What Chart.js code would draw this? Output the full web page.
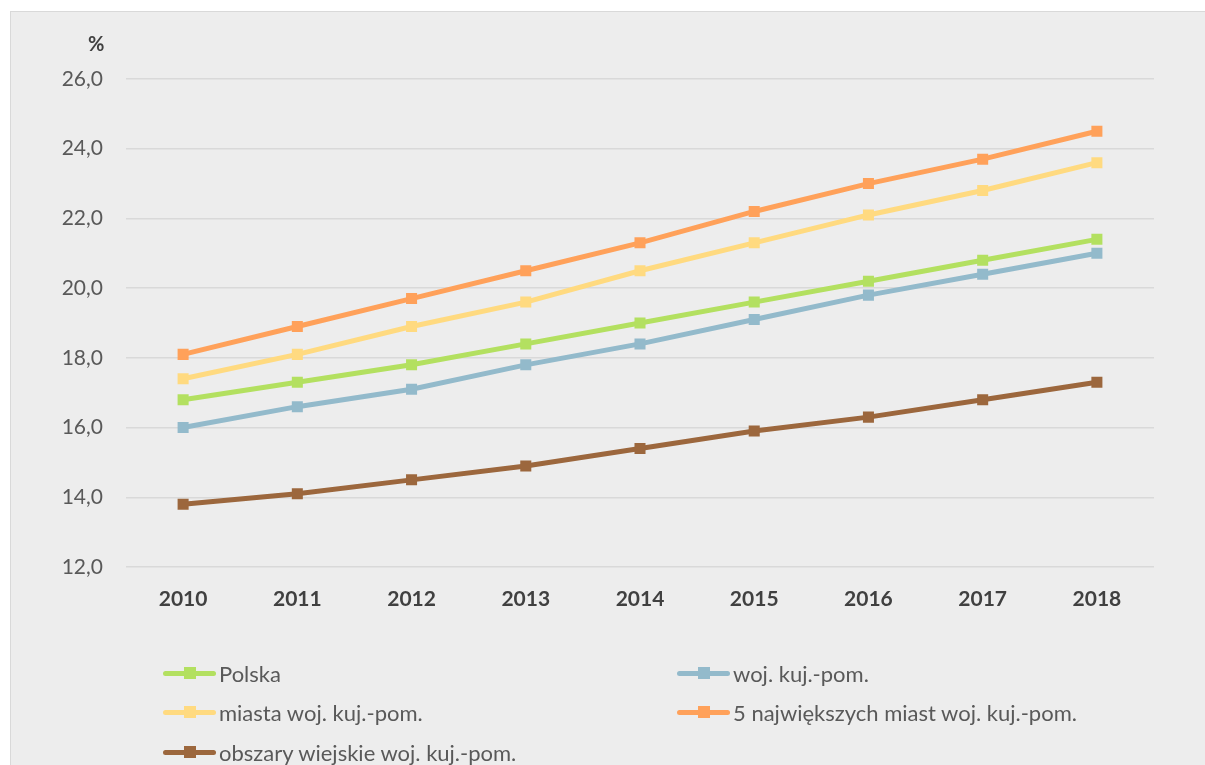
<!DOCTYPE html>
<html>
<head>
<meta charset="utf-8">
<script src="https://cdn.jsdelivr.net/npm/chart.js@4.4.1/dist/chart.umd.min.js"></script>
<style>
  html, body { margin: 0; padding: 0; background: #ffffff; width: 1205px; height: 765px; overflow: hidden; }
  #panel { position: absolute; left: 10px; top: 11px; width: 1195px; height: 754px; background: #EDEDED; border-left: 1.5px solid #D9D9D9; border-top: 1.5px solid #D9D9D9; box-sizing: border-box; }
  #wrap { position: absolute; left: 0; top: 0; width: 1205px; height: 765px; }
  #unit { position: absolute; left: 88px; top: 31px; font: bold 20px Lato, sans-serif; color: #404040; }
  .leg { position: absolute; height: 26px; display: flex; align-items: center; font: 22px Lato, sans-serif; color: #595959; white-space: nowrap; }
  .mk { position: relative; width: 53px; height: 26px; margin-right: 3px; }
  .mk .ln { position: absolute; left: 0; top: 10.5px; width: 53px; height: 5px; border-radius: 3px; }
  .mk .sq { position: absolute; left: 20.5px; top: 7px; width: 12px; height: 12px; }
</style>
</head>
<body>
<div id="panel"></div>
<div id="wrap"><canvas id="c" width="1205" height="765"></canvas></div>
<div id="unit">%</div>
<div id="legend"></div>
<script>
const years = ["2010","2011","2012","2013","2014","2015","2016","2017","2018"];
const seriesNames = ["Polska","woj. kuj.-pom.","miasta woj. kuj.-pom.","5 największych miast woj. kuj.-pom.","obszary wiejskie woj. kuj.-pom."];
const polska    = [16.8, 17.3, 17.8, 18.4, 19.0, 19.6, 20.2, 20.8, 21.4];
const wojKujPom = [16.0, 16.6, 17.1, 17.8, 18.4, 19.1, 19.8, 20.4, 21.0];
const miasta    = [17.4, 18.1, 18.9, 19.6, 20.5, 21.3, 22.1, 22.8, 23.6];
const piecMiast = [18.1, 18.9, 19.7, 20.5, 21.3, 22.2, 23.0, 23.7, 24.5];
const obszaryWiejskie = [13.8, 14.1, 14.5, 14.9, 15.4, 15.9, 16.3, 16.8, 17.3];
const yTicks = [12, 14, 16, 18, 20, 22, 24, 26];
const colors = ["#B3E060", "#93BACB", "#FFDA80", "#FFA15A", "#9C673D"];

const values = [polska, wojKujPom, miasta, piecMiast, obszaryWiejskie];

const datasets = values.map((v, i) => ({
  label: seriesNames[i],
  data: v,
  borderColor: colors[i],
  backgroundColor: colors[i],
  borderWidth: 5,
  pointStyle: 'rect',
  pointRadius: 7.8,
  pointBorderWidth: 0,
  pointHoverRadius: 7.8,
  tension: 0,
  fill: false
}));

new Chart(document.getElementById('c'), {
  type: 'line',
  data: { labels: years, datasets },
  options: {
    responsive: false,
    animation: false,
    events: [],
    layout: { padding: { left: 0, top: 79, right: 51, bottom: 158 } },
    plugins: { legend: { display: false }, tooltip: { enabled: false } },
    scales: {
      x: {
        offset: true,
        grid: { display: false, drawTicks: false },
        border: { display: false },
        ticks: { padding: 20, color: '#404040', font: { family: 'Lato', size: 21, weight: 'bold' } },
        afterFit: s => { s.height = 40; }
      },
      y: {
        min: 12, max: 26,
        afterBuildTicks: s => { s.ticks = yTicks.map(v => ({ value: v })); },
        grid: { color: '#D9D9D9', lineWidth: 1.5, drawTicks: false },
        border: { display: false },
        ticks: {
          padding: 23, color: '#595959',
          font: { family: 'Lato', size: 21 },
          callback: v => v.toFixed(1).replace('.', ',')
        },
        afterFit: s => { s.width = 126; }
      }
    }
  }
});

const legendPos = [[163, 660], [677, 660], [163, 699], [677, 699], [163, 739]];
const leg = document.getElementById('legend');
seriesNames.forEach((name, i) => {
  const d = document.createElement('div');
  d.className = 'leg';
  d.style.left = legendPos[i][0] + 'px';
  d.style.top = legendPos[i][1] + 'px';
  d.innerHTML = '<div class="mk"><div class="ln" style="background:' + colors[i] + '"></div><div class="sq" style="background:' + colors[i] + '"></div></div><span>' + name + '</span>';
  leg.appendChild(d);
});
</script>
</body>
</html>
